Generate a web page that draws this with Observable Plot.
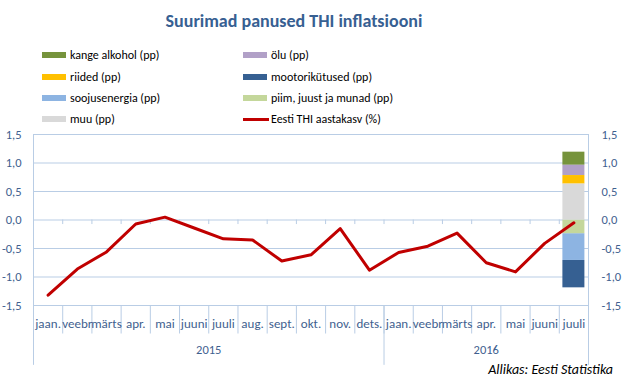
<!DOCTYPE html>
<html><head><meta charset="utf-8">
<script src="https://cdn.jsdelivr.net/npm/d3@7"></script>
<script src="https://cdn.jsdelivr.net/npm/@observablehq/plot@0.6"></script>
<style>
body{margin:0;background:#fff;font-family:Carlito,Lato,sans-serif;}
#wrap{position:relative;width:625px;height:380px;overflow:hidden;background:#fff}
#title{position:absolute;left:0;width:588px;top:10px;text-align:center;font-weight:bold;font-size:18px;line-height:22px;color:#376092}
.li{position:absolute;font-size:12px;color:#000;line-height:14px;height:14px;white-space:nowrap;padding-left:28px}
.sw{position:absolute;left:0;top:4px;width:24px;height:6px}
.ln{position:absolute;left:0;top:6px;width:26px;height:3px;background:#c00000}
#chart{position:absolute;left:0;top:128px}
#cap{position:absolute;right:12px;top:361px;font-style:italic;font-size:14px;color:#000}
</style></head>
<body>
<div id="wrap">
  <div id="title">Suurimad panused THI inflatsiooni</div>
  <div id="legend"></div>
  <div id="chart"></div>
  <div id="cap">Allikas: Eesti Statistika</div>
</div>
<script>
// ---- data ----
const months = ["jaan.","veebr","märts","apr.","mai","juuni","juuli","aug.","sept.","okt.","nov.","dets.",
                "jaan.","veebr","märts","apr.","mai","juuni","juuli"];
const years = ["2015","2016"];
const yearLengths = [12, 7];
const cpi = [-1.32,-0.86,-0.56,-0.07,0.05,-0.14,-0.33,-0.35,-0.72,-0.61,-0.15,-0.88,
             -0.57,-0.46,-0.23,-0.75,-0.91,-0.41,-0.05];
const seriesNames = ["kange alkohol (pp)","ölu (pp)","riided (pp)","mootorikütused (pp)",
                     "soojusenergia (pp)","piim, juust ja munad (pp)","muu (pp)"];
const seriesValues = [0.23, 0.18, 0.15, -0.48, -0.47, -0.24, 0.63];
const seriesColors = ["#76933c","#b1a0c7","#ffc000","#366092","#8db4e2","#c4d79b","#d9d9d9"];
const stackOrder = ["muu (pp)","riided (pp)","ölu (pp)","kange alkohol (pp)",
                    "piim, juust ja munad (pp)","soojusenergia (pp)","mootorikütused (pp)"];
const lineName = "Eesti THI aastakasv (%)";
const yTicks = [-1.5,-1,-0.5,0,0.5,1,1.5];

// ---- legend ----
const legend = document.getElementById("legend");
const legendItems = seriesNames.map((s,k)=>({name:s,color:seriesColors[k]})).concat([{name:lineName,line:true}]);
legendItems.forEach((it,k)=>{
  const col = k % 2, row = Math.floor(k/2);
  const d = document.createElement("div");
  d.className = "li";
  d.style.left = (col ? 243 : 42) + "px";
  d.style.top = [48,70,91,112][row] + "px";
  const sw = document.createElement("span");
  if (it.line) sw.className = "ln"; else { sw.className = "sw"; sw.style.background = it.color; }
  d.appendChild(sw);
  d.appendChild(document.createTextNode(it.name));
  legend.appendChild(d);
});

// ---- tables ----
const lineData = cpi.map((v,i)=>({i, v}));
const barIndex = months.length - 1;
const components = seriesNames.map((s,k)=>({s, v: seriesValues[k], i: barIndex}));
const yearBounds = [0];
yearLengths.forEach(n=>yearBounds.push(yearBounds[yearBounds.length-1]+n));
const yearCenters = years.map((y,k)=>(yearBounds[k]+yearBounds[k+1])/2);
const edgeBounds = [0, months.length];
const innerYearBounds = yearBounds.filter(b => b > 0 && b < months.length);
const fmt = d => d.toFixed(1).replace(".", ",");
const gridColor = "#b9cde5";
const axisColor = "#3f5f8f";

const chart = Plot.plot({
  width: 625, height: 240,
  marginLeft: 33, marginRight: 37, marginTop: 6, marginBottom: 63,
  style: {fontFamily: "Carlito, Lato, sans-serif", fontSize: "12px", background: "transparent", overflow: "visible"},
  x: {type: "linear", domain: [0, months.length]},
  y: {domain: [-1.5, 1.5]},
  color: {domain: seriesNames, range: seriesColors},
  marks: [
    Plot.gridY(yTicks, {stroke: gridColor, strokeOpacity: 1}),
    Plot.ruleX(d3.range(0, months.length + 1), {y1: -1.5, y2: -2.0, stroke: gridColor}),
    Plot.ruleX(edgeBounds, {y1: 1.5, y2: -2.55, stroke: gridColor}),
    Plot.ruleX(innerYearBounds, {y1: -1.5, y2: -2.55, stroke: gridColor}),
    Plot.ruleX(d3.range(1, months.length), {y1: 0, y2: -0.08, stroke: gridColor}),
    Plot.rectY(components, Plot.stackY({x1: d => d.i, x2: d => d.i + 1, y: "v", fill: "s", order: stackOrder, insetLeft: 3.6, insetRight: 3.6})),
    Plot.line(lineData, {x: d => d.i + 0.5, y: "v", stroke: "#c00000", strokeWidth: 3, strokeLinejoin: "round"}),
    Plot.axisY({ticks: yTicks, tickFormat: fmt, tickSize: 0, tickPadding: 12, anchor: "left", fill: axisColor, label: null, fontSize: 12.5}),
    Plot.axisY({ticks: yTicks, tickFormat: fmt, tickSize: 0, tickPadding: 13, anchor: "right", fill: axisColor, label: null, fontSize: 12.5}),
    Plot.axisX({ticks: months.map((m,i)=>i+0.5), tickFormat: d => months[Math.floor(d)], tickSize: 0, tickPadding: 13, fill: axisColor, label: null, fontSize: 13}),
    Plot.axisX({ticks: yearCenters, tickFormat: d => years[yearCenters.indexOf(d)], tickSize: 0, tickPadding: 40, fill: axisColor, label: null, fontSize: 12.5})
  ]
});
document.getElementById("chart").appendChild(chart);
</script>
</body></html>
